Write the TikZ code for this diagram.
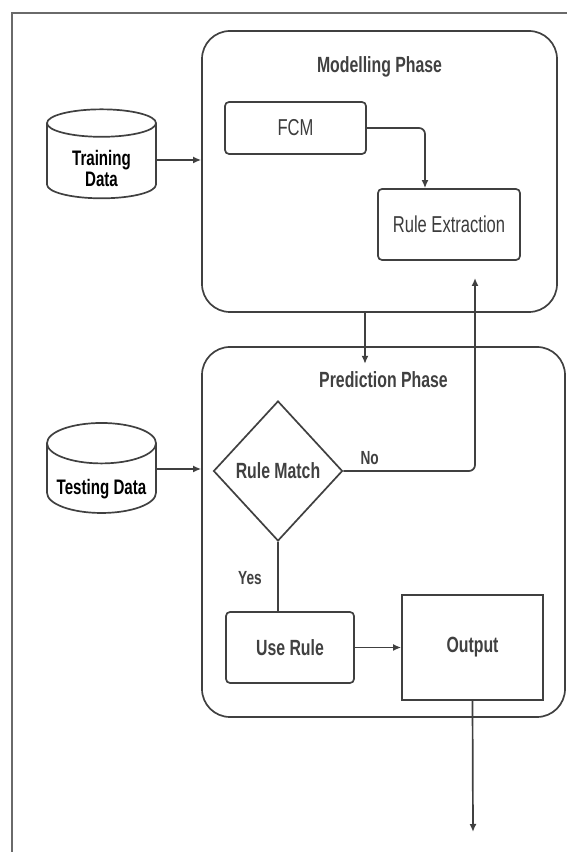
\documentclass[tikz,border=0pt]{standalone}
\usepackage{fontspec}
\setmainfont[FakeStretch=0.72]{Liberation Sans}
\usetikzlibrary{shapes,arrows,arrows.meta,positioning,calc}
\definecolor{linegray}{HTML}{404040}
\definecolor{textgray}{HTML}{3C3C3C}
\definecolor{framegray}{HTML}{6A6A6A}
\tikzstyle{phase} = [draw=linegray, rounded corners=28pt, inner sep=0pt]
\tikzstyle{block} = [draw=linegray, rounded corners=4pt, text=textgray, font=\fontsize{23}{25}\selectfont]
\tikzstyle{bblock} = [draw=linegray, rounded corners=4pt, font=\bfseries\fontsize{22}{24}\selectfont]
\tikzstyle{decision} = [draw=linegray, diamond, inner sep=0pt, font=\bfseries\fontsize{22}{24}\selectfont]
\tikzstyle{database} = [draw=linegray, cylinder, shape border rotate=90, aspect=0.42, text=black, font=\bfseries\fontsize{21}{20}\selectfont]
\tikzstyle{title} = [font=\bfseries\fontsize{22}{24}\selectfont]
\tikzstyle{answer} = [font=\bfseries\fontsize{19}{20}\selectfont]
\newcommand{\dbtext}[1]{\raisebox{-8pt}[\height][\depth]{\begin{tabular}{@{}c@{}}#1\end{tabular}}}

\begin{document}
\begin{tikzpicture}[x=1pt, y=1pt, >={Latex[length=8pt, width=7pt]}, line width=1.7pt, color=linegray]
    \useasboundingbox (0,0) rectangle (567,852);
    % Frame
    \draw [framegray, line width=2pt] (12,-5) -- (12,839) -- (575,839);

    % Phases
    \node [phase, minimum width=355pt, minimum height=281pt] (modelling) at (379.5,680.5) {};
    \node [phase, minimum width=363pt, minimum height=370pt] (prediction) at (383.5,320) {};
    \node [title, above of=modelling, node distance=104.5pt] (mtitle) {Modelling Phase};
    \node [title, above of=prediction, node distance=152pt] (ptitle) {Prediction Phase};

    % Modelling
    \node [block, minimum width=141pt, minimum height=52pt] (fcm) at (295.5,724) {FCM};
    \node [block, minimum width=142pt, minimum height=71pt] (rulex) at (449,627.5) {Rule Extraction};

    % Data
    \node [database, minimum width=109pt, minimum height=89pt] (training) at (101.5,688.5) {\dbtext{Training\\Data}};
    \node [database, minimum width=109pt, minimum height=90pt] (testing) at (101.5,370) {\dbtext{Testing Data}};

    % Prediction
    \node [decision, minimum width=129pt, minimum height=140pt] (match) at (278,381) {Rule Match};
    \node [bblock, minimum width=128pt, minimum height=71pt] (use) at (290,204.5) {Use Rule};
    \node [bblock, rounded corners=0pt, right of=use, node distance=182.5pt, minimum width=141pt, minimum height=105pt] (output) {Output};

    \coordinate (tin) at ([yshift=3.5pt]training.east);
    \coordinate (sin) at ([yshift=13pt]testing.east);
    \coordinate (down) at ([xshift=-14.5pt]modelling.south);
    \coordinate (feedback) at (475,574);
    \coordinate (result) at (473,20);

    % Connections
    \draw [->] (tin) -- (tin -| modelling.west);
    \draw [->] (sin) -- (sin -| prediction.west);
    \draw [->, rounded corners=6pt] (fcm.east) -| ([xshift=-24pt]rulex.north);
    \draw [->] (down) -- ++(0,-51pt);
    \draw [->, rounded corners=6pt] (match.east) -| node [answer, pos=0.1, above=2pt] {No} (feedback);
    \draw (match.south) -- node [answer, pos=0.52, left=12pt] {Yes} (match.south |- use.north);
    \draw [->] (use.east) -- (output.west);
    \draw [->] (output.south) -- (result);
\end{tikzpicture}
\end{document}
